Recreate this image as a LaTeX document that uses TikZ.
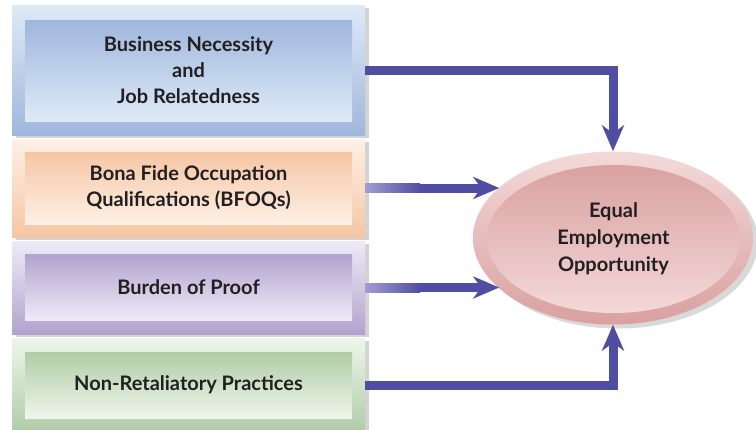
\documentclass[tikz,border=0pt]{standalone}
\usepackage{fontspec}
\setmainfont{Lato}
\usetikzlibrary{arrows.meta,shadows,shapes.geometric}

\definecolor{arrowblue}{RGB}{80,78,163}
\definecolor{arrowlight}{RGB}{160,156,212}
\definecolor{textgray}{RGB}{35,31,32}
\definecolor{blueA}{RGB}{222,234,247}
\definecolor{blueB}{RGB}{159,183,221}
\definecolor{orangeA}{RGB}{253,240,230}
\definecolor{orangeB}{RGB}{246,198,164}
\definecolor{purpleA}{RGB}{238,235,247}
\definecolor{purpleB}{RGB}{178,163,207}
\definecolor{greenA}{RGB}{238,246,235}
\definecolor{greenB}{RGB}{176,204,166}
\definecolor{pinkA}{RGB}{243,217,217}
\definecolor{pinkB}{RGB}{218,160,160}

\tikzset{
    outerbox/.style={rectangle, minimum width=353pt, inner sep=0pt,
        drop shadow={shadow xshift=4pt, shadow yshift=-3pt, opacity=0.35}},
    innerbox/.style={rectangle, minimum width=327pt, inner sep=0pt, align=center,
        text=textgray, font=\bfseries\fontsize{20}{26}\selectfont},
    arr/.style={draw=arrowblue, line width=9pt, line join=miter,
        -{Stealth[width=22pt, length=26pt, inset=8pt]}},
}

\begin{document}
\begin{tikzpicture}[x=1pt, y=-1pt]
    \useasboundingbox (0, 0) rectangle (756, 429);

    %(1)
    \node [outerbox, minimum height=130pt, top color=blueA, bottom color=blueB] (B1out) at (188.5, 70) {};
    \node [innerbox, minimum height=101pt, top color=blueB, bottom color=blueA] (B1) at (188.5, 70.5) {Business Necessity\\and\\Job Relatedness};

    %(2)
    \node [outerbox, minimum height=98pt, top color=orangeA, bottom color=orangeB] (B2out) at (188.5, 188) {};
    \node [innerbox, minimum height=72pt, top color=orangeB, bottom color=orangeA] (B2) at (188.5, 188) {Bona Fide Occupation\\Qualifications (BFOQs)};

    %(3)
    \node [outerbox, minimum height=93pt, top color=purpleA, bottom color=purpleB] (B3out) at (188.5, 287.5) {};
    \node [innerbox, minimum height=66pt, top color=purpleB, bottom color=purpleA] (B3) at (188.5, 287) {Burden of Proof};

    %(4)
    \node [outerbox, minimum height=94pt, top color=greenA, bottom color=greenB] (B4out) at (188.5, 385) {};
    \node [innerbox, minimum height=66pt, top color=greenB, bottom color=greenA] (B4) at (188.5, 385) {Non-Retaliatory Practices};

    %(EEO)
    \node [ellipse, minimum width=280pt, minimum height=173pt, inner sep=0pt,
        top color=pinkA, bottom color=pinkB,
        drop shadow={shadow xshift=5pt, shadow yshift=-4pt, opacity=0.3}] (EEOout) at (613, 238) {};
    \node [ellipse, minimum width=253pt, minimum height=148pt, inner sep=0pt, align=center,
        top color=pinkB, bottom color=pinkA, text=textgray,
        font=\bfseries\fontsize{20}{27}\selectfont] (EEO) at (613.5, 239) {Equal\\Employment\\Opportunity};

    %arrows
    \draw [arr] (B1out.east) -| (EEOout.north);
    \draw [arr] (B2out.east) -- (EEOout.156 |- B2out.east);
    \draw [arr] (B3out.east) -- (EEOout.204 |- B3out.east);
    \draw [arr] (B4out.east) -| (EEOout.south);
    \shade [left color=arrowlight, right color=arrowblue] (B2out.east) ++(0, -4.5) rectangle ++(55, 9);
    \shade [left color=arrowlight, right color=arrowblue] (B3out.east) ++(0, -4.5) rectangle ++(55, 9);
\end{tikzpicture}
\end{document}
